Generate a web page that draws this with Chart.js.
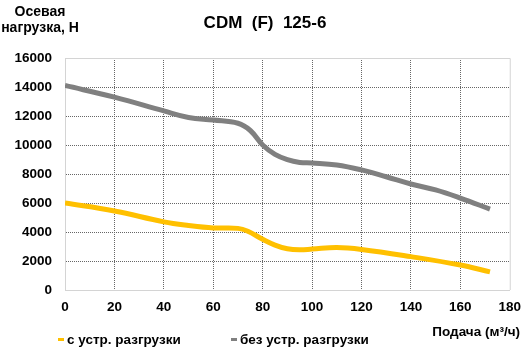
<!DOCTYPE html>
<html>
<head>
<meta charset="utf-8">
<title>CDM (F) 125-6</title>
<script src="https://cdn.jsdelivr.net/npm/chart.js@4.4.0/dist/chart.umd.min.js"></script>
<style>
    html, body { margin: 0; padding: 0; background: #fff; }
    #wrap { width: 530px; height: 358px; }
</style>
</head>
<body>
<div id="wrap"><canvas id="axialLoadChart" width="530" height="358"></canvas></div>
<script>
// --- data ---
const chartTitle = 'CDM  (F)  125-6';
const yTitleLines = ['Осевая', 'нагрузка, Н'];
const xTitle = 'Подача (м³/ч)';
const seriesLabels = ['с устр. разгрузки', 'без устр. разгрузки'];

// flow, m3/h
const flowWith = [0, 20, 40, 50, 60, 70, 74, 80, 85, 90, 95, 100, 110, 120, 140, 160, 172];
const loadWith = [6000, 5450, 4700, 4450, 4280, 4250, 4050, 3500, 3100, 2840, 2770, 2820, 2930, 2800, 2300, 1720, 1250];

const flowWithout = [0, 20, 40, 50, 60, 70, 75, 80, 85, 90, 95, 100, 110, 120, 130, 140, 150, 160, 172];
const loadWithout = [14100, 13300, 12350, 11900, 11720, 11500, 11000, 10000, 9350, 8990, 8800, 8760, 8620, 8280, 7810, 7310, 6900, 6340, 5580];

const xTicks = { min: 0, max: 180, step: 20 };
const yTicks = { min: 0, max: 16000, step: 2000 };

const FONT = '"Liberation Sans", Arial, sans-serif';
const YELLOW = '#FFC000';
const GREY = '#808080';

function toPoints(xs, ys) {
    return xs.map((x, i) => ({ x: x, y: ys[i] }));
}

// light frame around the plot area (top and right edges)
const plotFrame = {
    id: 'plotFrame',
    beforeDatasetsDraw(chart) {
        const a = chart.chartArea;
        const ctx = chart.ctx;
        ctx.save();
        ctx.strokeStyle = '#d4d4d4';
        ctx.lineWidth = 1;
        ctx.beginPath();
        ctx.moveTo(a.left, a.top + 0.5);
        ctx.lineTo(a.right + 0.5, a.top + 0.5);
        ctx.lineTo(a.right + 0.5, a.bottom);
        ctx.stroke();
        ctx.restore();
    }
};

// titles and legend
const chartText = {
    id: 'chartText',
    afterDraw(chart) {
        const ctx = chart.ctx;
        ctx.save();
        ctx.fillStyle = '#000';
        ctx.textBaseline = 'middle';

        ctx.textAlign = 'center';
        ctx.font = 'bold 17px ' + FONT;
        ctx.fillText(chartTitle, 265, 23);

        ctx.font = 'bold 14px ' + FONT;
        ctx.fillText(yTitleLines[0], 40, 12);
        ctx.fillText(yTitleLines[1], 40, 28);

        ctx.font = 'bold 13.5px ' + FONT;
        ctx.textAlign = 'right';
        ctx.fillText(xTitle, 520, 332);

        ctx.textAlign = 'left';
        const legendX = [58, 231];
        chart.data.datasets.forEach((ds, i) => {
            ctx.fillStyle = ds.borderColor;
            ctx.fillRect(legendX[i], 338, 6, 3);
            ctx.fillStyle = '#000';
            ctx.fillText(ds.label, legendX[i] + 9, 340);
        });
        ctx.restore();
    }
};

function gridColor(ctx, max) {
    if (!ctx.tick) return '#666';
    if (ctx.tick.value === 0 || ctx.tick.value === max) return 'rgba(0,0,0,0)';
    return '#666';
}

const canvas = document.getElementById('axialLoadChart');

new Chart(canvas, {
    type: 'line',
    data: {
        datasets: [{
            label: seriesLabels[0],
            data: toPoints(flowWith, loadWith),
            borderColor: YELLOW,
            backgroundColor: YELLOW,
            borderWidth: 5,
            pointRadius: 0,
            tension: 0.4,
            fill: false
        }, {
            label: seriesLabels[1],
            data: toPoints(flowWithout, loadWithout),
            borderColor: GREY,
            backgroundColor: GREY,
            borderWidth: 5,
            pointRadius: 0,
            tension: 0.4,
            fill: false
        }]
    },
    options: {
        responsive: false,
        animation: false,
        layout: {
            padding: { left: 0, right: 16, top: 58, bottom: 0 }
        },
        plugins: {
            legend: { display: false },
            title: { display: false },
            tooltip: { enabled: false }
        },
        scales: {
            x: {
                type: 'linear',
                min: xTicks.min,
                max: xTicks.max,
                afterFit: (scale) => { scale.height = 68; },
                ticks: {
                    stepSize: xTicks.step,
                    color: '#000',
                    padding: 9,
                    maxRotation: 0,
                    callback: (v) => String(v),
                    font: { family: FONT, size: 13.5, weight: 'bold' }
                },
                grid: {
                    drawTicks: false,
                    color: (ctx) => gridColor(ctx, xTicks.max),
                    lineWidth: 1
                },
                border: { display: true, color: '#d4d4d4', width: 1, dash: [1, 1] }
            },
            y: {
                min: yTicks.min,
                max: yTicks.max,
                afterFit: (scale) => { scale.width = 65; },
                ticks: {
                    stepSize: yTicks.step,
                    color: '#000',
                    padding: 13,
                    callback: (v) => String(v),
                    font: { family: FONT, size: 13.5, weight: 'bold' }
                },
                grid: {
                    drawTicks: false,
                    color: (ctx) => gridColor(ctx, yTicks.max),
                    lineWidth: 1
                },
                border: { display: true, color: '#d4d4d4', width: 1, dash: [1, 1] }
            }
        }
    },
    plugins: [plotFrame, chartText]
});
</script>
</body>
</html>
